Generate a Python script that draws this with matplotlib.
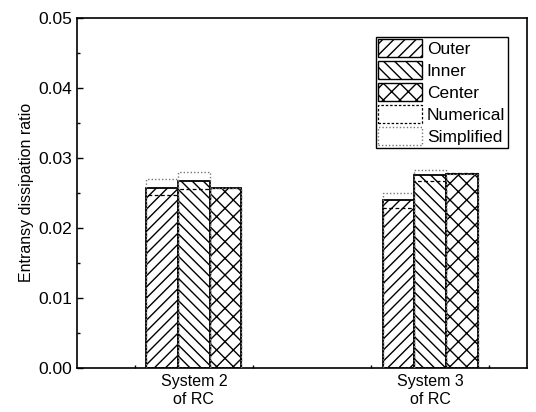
"""Entransy dissipation ratio 柱狀圖(System 2 / System 3 of RC)。"""

import matplotlib

matplotlib.use("Agg")
import matplotlib.pyplot as plt
import numpy as np
from matplotlib.patches import Patch
from matplotlib.ticker import FormatStrFormatter, MultipleLocator

plt.rcParams["font.family"] = ["Liberation Sans", "DejaVu Sans"]
plt.rcParams["hatch.linewidth"] = 1.0

# 資料
systems = ["System 2\nof RC", "System 3\nof RC"]
parts = ["Outer", "Inner", "Center"]
hatches = ["///", "\\\\\\", "xx"]
measured = {
    "Outer": [0.0256, 0.0239],
    "Inner": [0.0267, 0.0275],
    "Center": [0.0256, 0.0277],
}
numerical = {
    "Outer": [0.0247, 0.0228],
    "Inner": [0.0255, 0.0267],
    "Center": [0.0256, 0.0278],
}
simplified = {
    "Outer": [0.0269, 0.0250],
    "Inner": [0.0279, 0.0282],
    "Center": [0.0256, 0.0277],
}


def main() -> None:
    fig = plt.figure(figsize=(5.36, 4.12), dpi=100)
    ax = fig.add_axes([0.1437, 0.108, 0.8393, 0.849])

    x = np.arange(1, len(systems) + 1)
    width = 0.134
    for i, part in enumerate(parts):
        pos = x + (i - 1) * width
        ax.bar(pos, measured[part], width, facecolor="white", edgecolor="black",
               hatch=hatches[i], linewidth=1.3, zorder=2)
        ax.bar(pos, numerical[part], width, fill=False, edgecolor="black",
               linestyle=(0, (3, 2)), linewidth=0.9, zorder=3)
        ax.bar(pos, simplified[part], width, fill=False, edgecolor="#777777",
               linestyle=(0, (1, 1.5)), linewidth=1.0, zorder=3)

    ax.set_xlim(0.505, 2.41)
    ax.set_ylim(0, 0.05)
    ax.set_xticks(x)
    ax.set_xticklabels(systems, fontsize=11.5)
    ax.set_xticks([0.75, 1.25, 1.75, 2.25], minor=True)
    ax.yaxis.set_major_locator(MultipleLocator(0.01))
    ax.yaxis.set_minor_locator(MultipleLocator(0.005))
    ax.yaxis.set_major_formatter(FormatStrFormatter("%.2f"))
    ax.tick_params(which="both", direction="in")
    ax.tick_params(axis="y", labelsize=12.5)
    ax.tick_params(which="major", length=4, width=1)
    ax.tick_params(which="minor", length=2.5, width=1)
    ax.tick_params(axis="x", which="major", length=0, pad=5)
    for s in ax.spines.values():
        s.set_linewidth(1.2)
    ax.set_ylabel("Entransy dissipation ratio", fontsize=11.5, labelpad=3)

    handles = [
        Patch(facecolor="white", edgecolor="black", hatch=hatches[i], linewidth=1.0, label=p)
        for i, p in enumerate(parts)
    ]
    handles.append(Patch(facecolor="white", edgecolor="black", linestyle=(0, (2, 1.5)),
                         linewidth=0.9, label="Numerical"))
    handles.append(Patch(facecolor="white", edgecolor="#777777", linestyle=(0, (1, 1.5)),
                         linewidth=1.0, label="Simplified"))
    leg = ax.legend(handles=handles, loc="upper right", fontsize=12.5, frameon=True,
                    fancybox=False, edgecolor="black", framealpha=1,
                    handlelength=2.5, handleheight=1.15, labelspacing=0.26,
                    handletextpad=0.3, borderpad=0.15, borderaxespad=1.1)
    leg.get_frame().set_linewidth(1.0)

    fig.savefig("out.png", dpi=100)
    plt.close(fig)


if __name__ == "__main__":
    main()
